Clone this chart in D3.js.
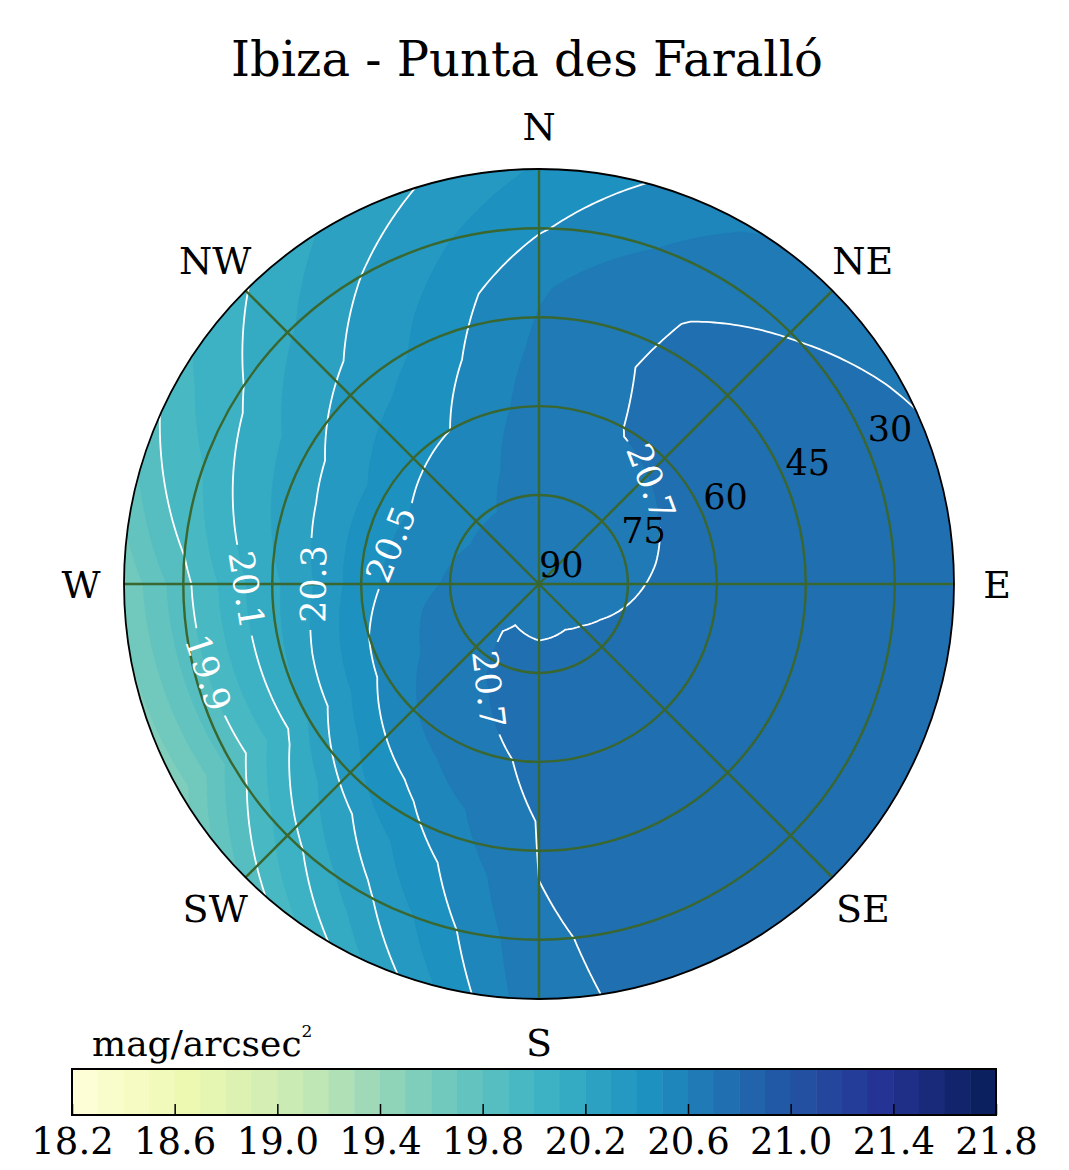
<!DOCTYPE html>
<html>
<head>
<meta charset="utf-8">
<script src="https://cdn.jsdelivr.net/npm/d3@7"></script>
<style>
    body { margin: 0; background: #fff; }
    svg text { font-family: "DejaVu Serif", serif; }
</style>
</head>
<body>
<svg id="chart" width="1069" height="1170"></svg>
<script>
let title = "Ibiza - Punta des Faralló"

// azimuths of the measurements (deg, clockwise from N)
let azimuths = [0, 30, 60, 90, 120, 150, 180, 210, 240, 270, 300, 330]

// sky brightness in mag/arcsec2, one value per azimuth on each altitude ring
let zenith = 20.66
let alt80 = [20.66, 20.67, 20.675, 20.68, 20.695, 20.705, 20.702, 20.71, 20.67, 20.64, 20.62, 20.62]
let alt70 = [20.65, 20.68, 20.69, 20.705, 20.72, 20.72, 20.715, 20.697, 20.63, 20.58, 20.56, 20.57]
let alt60 = [20.645, 20.703, 20.72, 20.73, 20.74, 20.735, 20.72, 20.65, 20.53, 20.46, 20.44, 20.50]
let alt50 = [20.62, 20.72, 20.74, 20.75, 20.76, 20.75, 20.705, 20.53, 20.33, 20.26, 20.32, 20.43]
let alt40 = [20.59, 20.705, 20.74, 20.76, 20.77, 20.76, 20.70, 20.40, 20.07, 20.09, 20.20, 20.36]
let alt30 = [20.49, 20.66, 20.73, 20.76, 20.77, 20.765, 20.685, 20.27, 19.83, 19.87, 20.07, 20.30]
let alt20 = [20.41, 20.59, 20.69, 20.75, 20.76, 20.76, 20.676, 20.11, 19.55, 19.62, 19.97, 20.22]

let lineLevels = [19.9, 20.1, 20.3, 20.5, 20.7]
let lineLabels = [
    { level: 19.9, az: 255, alt: 34 },
    { level: 20.1, az: 269, alt: 41 },
    { level: 20.3, az: 269.5, alt: 53 },
    { level: 20.5, az: 284.5, alt: 64 },
    { level: 20.7, az: 47.5, alt: 64 },
    { level: 20.7, az: 205, alt: 70.5 }
]

let ringAlts = [30, 45, 60, 75]
let ringLabels = [30, 45, 60, 75, 90]
let compass = ["N", "NE", "E", "SE", "S", "SW", "W", "NW"]

let cbMin = 18.2, cbMax = 21.8
let cbTicks = [18.2, 18.6, 19.0, 19.4, 19.8, 20.2, 20.6, 21.0, 21.4, 21.8]

let ylgnbu = ["#ffffd9", "#edf8b1", "#c7e9b4", "#7fcdbb", "#41b6c4", "#1d91c0", "#225ea8", "#253494", "#081d58"]


const cx = 539, cy = 584, R = 415
const maxZen = 70
const gridColor = "#3a662f"

let svg = d3.select('#chart')

let fillLevels = d3.range(182, 218).map(d => d / 10)
let colorScale = d3.scaleLinear()
    .domain(ylgnbu.map((c, i) => cbMin + i * (cbMax - cbMin) / (ylgnbu.length - 1)))
    .range(ylgnbu)
let bandColor = t => colorScale(t + 0.05)

// build the grid: rows = zenith distance 0..70, columns = azimuth (wrapped)
let rows = [azimuths.map(() => zenith), alt80, alt70, alt60, alt50, alt40, alt30, alt20]
let gridW = azimuths.length + 1
let gridH = rows.length
let values = []
rows.forEach(row => {
    row.forEach(v => values.push(v))
    values.push(row[0])
})
let azStep = 360 / azimuths.length
let zenStep = maxZen / (gridH - 1)

let rScale = d3.scaleLinear().domain([0, maxZen]).range([0, R])

function skyXY(az, zen) {
    let a = az * Math.PI / 180
    let r = rScale(zen)
    return [cx + r * Math.sin(a), cy - r * Math.cos(a)]
}

function clampGrid(p) {
    return [Math.max(0.5, Math.min(gridW - 0.5, p[0])), Math.max(0.5, Math.min(gridH - 0.5, p[1]))]
}

function gridXY(p) {
    return skyXY((p[0] - 0.5) * azStep, (p[1] - 0.5) * zenStep)
}

function densify(points) {
    let out = []
    let pts = points.map(clampGrid)
    for (let i = 0; i < pts.length - 1; i++) {
        let a = pts[i], b = pts[i + 1]
        let n = Math.max(1, Math.ceil(Math.hypot(b[0] - a[0], b[1] - a[1]) / 0.04))
        for (let k = 0; k < n; k++) {
            out.push(gridXY([a[0] + (b[0] - a[0]) * k / n, a[1] + (b[1] - a[1]) * k / n]))
        }
    }
    out.push(gridXY(pts[pts.length - 1]))
    return out
}

function onBorder(p, q) {
    return (p[0] <= 0.5 && q[0] <= 0.5) || (p[0] >= gridW - 0.5 && q[0] >= gridW - 0.5) ||
        (p[1] <= 0.5 && q[1] <= 0.5) || (p[1] >= gridH - 0.5 && q[1] >= gridH - 0.5)
}

function linePieces(ring) {
    let pts = ring.slice(0, -1)
    let n = pts.length
    let border = pts.map((p, i) => onBorder(p, pts[(i + 1) % n]))
    let start = border.indexOf(true)
    if (start < 0) return [densify(ring)]
    let pieces = []
    let cur = []
    for (let k = 1; k <= n; k++) {
        let i = (start + k) % n
        if (border[i]) {
            if (cur.length > 1) pieces.push(densify(cur))
            cur = []
        } else {
            if (!cur.length) cur.push(pts[i])
            cur.push(pts[(i + 1) % n])
        }
    }
    if (cur.length > 1) pieces.push(densify(cur))
    return pieces
}

let toPath = pts => "M" + pts.map(p => p[0].toFixed(2) + "," + p[1].toFixed(2)).join("L")

let defs = svg.append('defs')
defs.append('clipPath').attr('id', 'skyClip')
    .append('circle').attr('cx', cx).attr('cy', cy).attr('r', R)

// filled contours
let fills = d3.contours().size([gridW, gridH]).thresholds(fillLevels)(values)

svg.append('g')
    .attr('clip-path', 'url(#skyClip)')
    .selectAll('path')
    .data(fills.filter(d => d.coordinates.length))
    .join('path')
    .attr('d', d => d.coordinates.map(poly => poly.map(ring => toPath(densify(ring)) + "Z").join("")).join(""))
    .attr('fill', d => bandColor(d.value))
    .attr('stroke', d => bandColor(d.value))
    .attr('stroke-width', 0.6)

// contour lines
let lines = d3.contours().size([gridW, gridH]).thresholds(lineLevels)(values)
let linePaths = []
lines.forEach(c => {
    c.coordinates.forEach(poly => poly.forEach(ring => {
        linePieces(ring).forEach(pts => linePaths.push({ level: c.value, pts: pts }))
    }))
})

let mask = defs.append('mask').attr('id', 'labelGaps')
    .attr('maskUnits', 'userSpaceOnUse')
    .attr('x', 0).attr('y', 0).attr('width', 1069).attr('height', 1170)
mask.append('rect').attr('width', 1069).attr('height', 1170).attr('fill', 'white')

svg.append('g')
    .attr('clip-path', 'url(#skyClip)')
    .append('g')
    .attr('mask', 'url(#labelGaps)')
    .selectAll('path')
    .data(linePaths)
    .join('path')
    .attr('d', d => toPath(d.pts))
    .attr('fill', 'none')
    .attr('stroke', 'white')
    .attr('stroke-width', 1.8)

// grid
let grid = svg.append('g')
grid.selectAll('.ring')
    .data(ringAlts)
    .join('circle')
    .attr('class', 'ring')
    .attr('cx', cx).attr('cy', cy)
    .attr('r', d => rScale(90 - d))
    .attr('fill', 'none')
    .attr('stroke', gridColor)
    .attr('stroke-width', 2.4)

grid.selectAll('.spoke')
    .data(compass.map((c, i) => i * 45))
    .join('line')
    .attr('class', 'spoke')
    .attr('x1', cx).attr('y1', cy)
    .attr('x2', d => skyXY(d, maxZen)[0])
    .attr('y2', d => skyXY(d, maxZen)[1])
    .attr('stroke', gridColor)
    .attr('stroke-width', 2.4)

svg.append('circle')
    .attr('cx', cx).attr('cy', cy).attr('r', R)
    .attr('fill', 'none')
    .attr('stroke', 'black')
    .attr('stroke-width', 1.8)

// contour labels
let labelFont = 35
let labelG = svg.append('g')
lineLabels.forEach(lab => {
    let target = skyXY(lab.az, 90 - lab.alt)
    let best = null
    linePaths.filter(d => Math.abs(d.level - lab.level) < 1e-6).forEach(d => {
        d.pts.forEach((p, i) => {
            let dist = Math.hypot(p[0] - target[0], p[1] - target[1])
            if (!best || dist < best.dist) best = { dist: dist, pts: d.pts, i: i }
        })
    })
    if (!best) return
    let a = best.pts[Math.max(0, best.i - 8)]
    let b = best.pts[Math.min(best.pts.length - 1, best.i + 8)]
    let p = best.pts[best.i]
    let ang = Math.atan2(b[1] - a[1], b[0] - a[0]) * 180 / Math.PI
    if (ang > 90) ang -= 180
    if (ang <= -90) ang += 180
    let tr = `translate(${p[0]},${p[1]}) rotate(${ang})`
    let txt = labelG.append('text')
        .attr('transform', tr)
        .attr('text-anchor', 'middle')
        .attr('dominant-baseline', 'central')
        .attr('font-size', labelFont)
        .attr('fill', 'white')
        .text(d3.format('.1f')(lab.level))
    let w = txt.node().getComputedTextLength()
    mask.append('rect')
        .attr('transform', tr)
        .attr('x', -w / 2 - 7).attr('y', -labelFont * 0.45)
        .attr('width', w + 14).attr('height', labelFont * 0.9)
        .attr('fill', 'black')
})

// altitude labels
svg.append('g')
    .selectAll('text')
    .data(ringLabels)
    .join('text')
    .attr('x', d => skyXY(67.5, 90 - d)[0])
    .attr('y', d => skyXY(67.5, 90 - d)[1] - 7)
    .attr('font-size', 35)
    .attr('fill', 'black')
    .text(d => d)

// compass labels
svg.append('g')
    .selectAll('text')
    .data(compass)
    .join('text')
    .attr('x', (d, i) => cx + 458 * Math.sin(i * Math.PI / 4))
    .attr('y', (d, i) => cy - 458 * Math.cos(i * Math.PI / 4) + 38 * 0.36)
    .attr('text-anchor', 'middle')
    .attr('font-size', 38)
    .attr('fill', 'black')
    .text(d => d)

// title
svg.append('text')
    .attr('x', 527).attr('y', 76)
    .attr('text-anchor', 'middle')
    .attr('font-size', 48)
    .attr('fill', 'black')
    .text(title)

// colorbar
let cbTop = 1069, cbH = 46
let cbX = d3.scaleLinear().domain([cbMin, cbMax]).range([72, 996])
let cb = svg.append('g')
cb.selectAll('rect')
    .data(fillLevels)
    .join('rect')
    .attr('x', d => cbX(d))
    .attr('y', cbTop)
    .attr('width', d => cbX(d + 0.1) - cbX(d) + 0.5)
    .attr('height', cbH)
    .attr('fill', d => bandColor(d))

cb.append('g')
    .attr('transform', `translate(0,${cbTop + cbH})`)
    .call(d3.axisBottom(cbX)
        .tickValues(cbTicks)
        .tickFormat(d3.format('.1f'))
        .tickSizeInner(-11)
        .tickSizeOuter(0)
        .tickPadding(13))
    .call(g => g.select('.domain').remove())
    .attr('font-size', 37)
    .attr('font-family', '"DejaVu Serif", serif')
    .call(g => g.selectAll('line').attr('stroke-width', 1.5))

cb.append('rect')
    .attr('x', 72).attr('y', cbTop)
    .attr('width', 924).attr('height', cbH)
    .attr('fill', 'none')
    .attr('stroke', 'black')
    .attr('stroke-width', 2)

let unit = svg.append('text')
    .attr('x', 92).attr('y', 1056)
    .attr('font-size', 36)
    .attr('fill', 'black')
unit.append('tspan').text('mag/arcsec')
unit.append('tspan').attr('font-size', 17).attr('dy', -19).text('2')
</script>
</body>
</html>
